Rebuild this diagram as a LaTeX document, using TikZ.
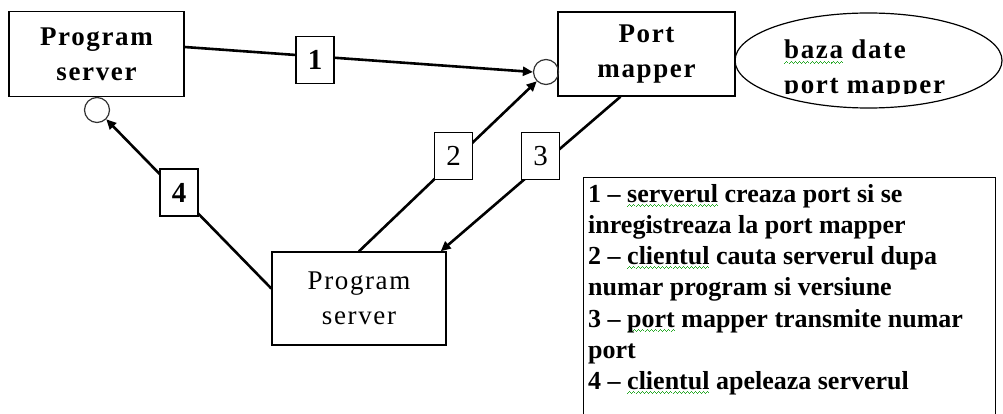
\documentclass[tikz,border=0pt]{standalone}
\usepackage{fontspec}
\setmainfont{Liberation Serif}
\newfontfamily\boxfont[LetterSpace=6]{Liberation Serif}
\usetikzlibrary{arrows.meta,shapes.geometric}
\definecolor{sqgreen}{RGB}{40,170,40}
\newcommand\sq[1]{\setbox0\hbox{#1}\rlap{\color{sqgreen}\hbox to\wd0{\xleaders\hbox{\rule[-4.6pt]{1pt}{0.8pt}\rule[-3.6pt]{1pt}{0.8pt}\rule[-2.6pt]{1pt}{0.8pt}\rule[-3.6pt]{1pt}{0.8pt}}\hfill}}#1}
\begin{document}
\begin{tikzpicture}[x=1pt,y=-1pt,
  box/.style={draw,line width=1.4pt,inner sep=0pt,align=center},
  conn/.style={line width=2.6pt,-{Triangle[length=10pt,width=9pt]}},
  lbl/.style={draw,fill=white,line width=1.4pt,minimum width=38pt,minimum height=47pt,inner sep=0pt},
  port/.style={circle,draw=black!80,line width=1.2pt,minimum size=25pt,inner sep=0pt},
  bigbf/.style={font=\boxfont\bfseries\fontsize{27}{35}\selectfont},
  bigrm/.style={font=\boxfont\fontsize{27}{35}\selectfont},
  numbf/.style={font=\bfseries\fontsize{29}{35}\selectfont},
  numrm/.style={font=\fontsize{29}{35}\selectfont}]
\useasboundingbox (0,0) rectangle (1003,414);
\fill[white] (0,0) rectangle (1003,414);
% boxes
\node[box,bigbf,minimum width=175pt,minimum height=85pt] (ps1) at (96.5,54) {Program\\server};
\node[box,bigbf,minimum width=177pt,minimum height=84pt] (pm) at (646.5,54) {Port\\mapper};
\node[draw,line width=1.2pt,ellipse,minimum width=267pt,minimum height=95pt,inner sep=0pt] (db) at (868.5,60.5) {};
\begin{scope}
\clip (736,0) rectangle (1003,93.5);
\node[anchor=north west,align=left,inner sep=0pt,bigbf] (dbtxt) at (784,40) {\sq{baza} date\\port mapper};
\end{scope}
\node[box,bigrm,minimum width=174pt,minimum height=93pt] (ps2) at (359,298.5) {Program\\server};
% ports
\node[port] (c1) at (97,110) {};
\node[port] (c2) at (546,72) {};
% connectors
\draw[conn] ([yshift=7pt]ps1.east) -- (c2.west);
\draw[conn] (ps2.north) -- (c2.south west);
\draw[conn] ([xshift=-26pt]pm.south) -- ([xshift=-6pt]ps2.north east);
\draw[conn] ([yshift=10pt]ps2.west) -- (c1.south east);
% labels
\node[lbl,numbf] (l1) at (315,60) {1};
\node[lbl,numrm] (l2) at (453.5,156) {2};
\node[lbl,numrm] (l3) at (540.5,156) {3};
\node[lbl,numbf] (l4) at (179,192.5) {4};
% legend
\node[draw,line width=1.4pt,minimum width=412pt,minimum height=245pt,anchor=north west,inner sep=0pt] (leg) at (583,177) {};
\node[anchor=north west,align=left,inner sep=0pt,font=\bfseries\fontsize{26}{31.2}\selectfont] (legtxt) at (588,184)
{1 -- \sq{serverul} creaza port si se\\
inregistreaza la port mapper\\
2 -- \sq{clientul} cauta serverul dupa\\
numar program si versiune\\
3 -- \sq{port} mapper transmite numar\\
port\\
4 -- \sq{clientul} apeleaza serverul};
\end{tikzpicture}
\end{document}
